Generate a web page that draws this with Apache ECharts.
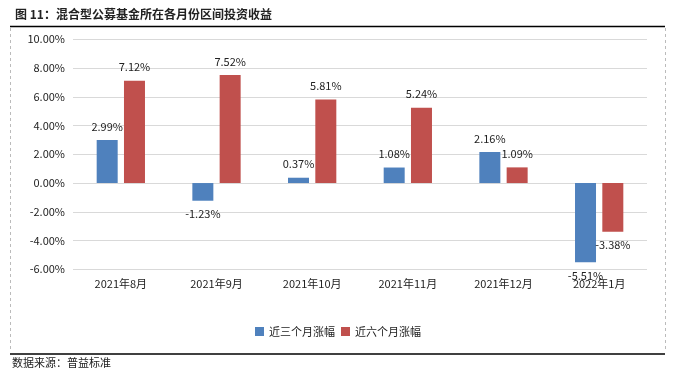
<!DOCTYPE html>
<html>
<head>
<meta charset="utf-8">
<script src="https://cdn.jsdelivr.net/npm/echarts@6/dist/echarts.min.js"></script>
<style>
html, body { margin: 0; padding: 0; background: #fff; }
#main { width: 675px; height: 375px; }
</style>
</head>
<body>
<div id="main"></div>
<script>
// 数据
var months = ['2021年8月', '2021年9月', '2021年10月', '2021年11月', '2021年12月', '2022年1月'];
var threeMonth = [2.99, -1.23, 0.37, 1.08, 2.16, -5.51];
var sixMonth = [7.12, 7.52, 5.81, 5.24, 1.09, -3.38];
var seriesNames = ['近三个月涨幅', '近六个月涨幅'];

var fontCN = '"Noto Sans CJK SC", "DejaVu Sans", sans-serif';

function pct(v) {
	return v.toFixed(2) + '%';
}

// 负值标签放在柱子下方
function toItems(arr) {
	return arr.map(function(v) {
		var item = { value : v };
		if (v < 0) {
			item.label = { position : 'bottom' };
		}
		return item;
	});
}

var myChart = echarts.init(document.getElementById('main'));

var labelCfg = {
	show : true,
	position : 'top',
	distance : 8,
	fontSize : 11,
	color : '#222',
	fontFamily : fontCN,
	formatter : function(p) { return pct(p.value); }
};

option = {
	backgroundColor : '#fff',
	animation : false,
	title : {
		text : '图 11：混合型公募基金所在各月份区间投资收益',
		left : 10,
		top : 3,
		textStyle : {
			fontSize : 12,
			fontWeight : 'bold',
			color : '#222',
			fontFamily : fontCN
		}
	},
	legend : {
		data : seriesNames,
		left : 250,
		top : 321,
		itemWidth : 9,
		itemHeight : 9,
		itemGap : 6,
		icon : 'rect',
		textStyle : {
			fontSize : 11,
			color : '#222',
			fontFamily : fontCN
		}
	},
	grid : {
		left : 73,
		right : 28,
		top : 39.3,
		bottom : 105.7
	},
	xAxis : {
		type : 'category',
		data : months,
		axisLine : { show : false },
		axisTick : { show : false },
		axisLabel : {
			fontSize : 11,
			color : '#222',
			margin : 9,
			fontFamily : fontCN
		}
	},
	yAxis : {
		type : 'value',
		min : -6,
		max : 10,
		interval : 2,
		axisLine : { show : false },
		axisTick : { show : false },
		splitLine : { lineStyle : { color : '#d9d9d9', width : 1 } },
		axisLabel : {
			fontSize : 11,
			color : '#222',
			margin : 8,
			fontFamily : fontCN,
			formatter : function(v) { return pct(v); }
		}
	},
	series : [ {
		name : seriesNames[0],
		type : 'bar',
		data : toItems(threeMonth),
		barWidth : 21,
		barGap : '30%',
		itemStyle : { color : '#4F81BD' },
		label : labelCfg
	}, {
		name : seriesNames[1],
		type : 'bar',
		data : toItems(sixMonth),
		barWidth : 21,
		itemStyle : { color : '#C0504D' },
		label : labelCfg
	} ],
	graphic : [ {
		type : 'line',
		shape : { x1 : 10, y1 : 26.5, x2 : 665, y2 : 26.5 },
		style : { stroke : '#000', lineWidth : 1.5 }
	}, {
		type : 'line',
		shape : { x1 : 10.5, y1 : 28, x2 : 10.5, y2 : 352 },
		style : { stroke : '#bbb', lineWidth : 1, lineDash : [ 3, 3 ] }
	}, {
		type : 'line',
		shape : { x1 : 665.5, y1 : 28, x2 : 665.5, y2 : 352 },
		style : { stroke : '#bbb', lineWidth : 1, lineDash : [ 3, 3 ] }
	}, {
		type : 'line',
		shape : { x1 : 10, y1 : 354, x2 : 665, y2 : 354 },
		style : { stroke : '#000', lineWidth : 1.5 }
	}, {
		type : 'text',
		left : 12,
		top : 357,
		style : {
			text : '数据来源：普益标准',
			fontSize : 11,
			fill : '#222',
			fontFamily : fontCN
		}
	} ]
};

myChart.setOption(option);
</script>
</body>
</html>
